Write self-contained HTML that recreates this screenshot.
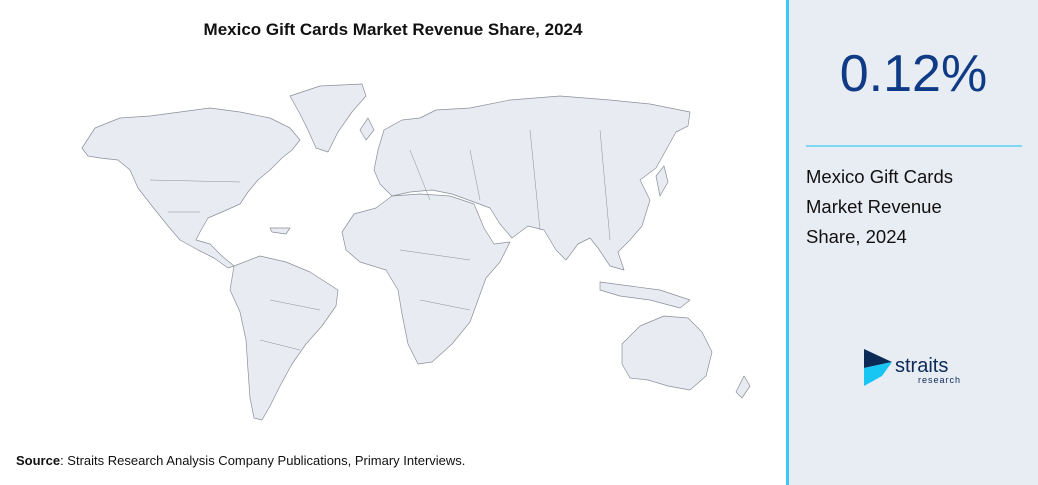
<!DOCTYPE html>
<html><head><meta charset="utf-8"><style>
body{margin:0;width:1038px;height:485px;overflow:hidden;background:#fff;font-family:"Liberation Sans",Arial,sans-serif;position:relative}
.title{position:absolute;left:0;width:786px;top:20px;text-align:center;font-size:17px;font-weight:bold;color:#111}
.panel{position:absolute;left:789px;top:0;width:249px;height:485px;background:#e8ecf3}
.vline{position:absolute;left:786px;top:0;width:3px;height:485px;background:#3cc8f4}
.big{position:absolute;left:789px;width:249px;top:44px;text-align:center;font-size:52px;color:#0f3b86;font-weight:500}
.hl{position:absolute;left:806px;top:145px;width:216px;height:1.5px;background:#7fd6f5}
.desc{position:absolute;left:806px;top:162px;font-size:18.5px;line-height:30px;color:#111}
.src{position:absolute;left:16px;top:453px;font-size:13px;color:#111}
</style></head><body>
<div class="title">Mexico Gift Cards Market Revenue Share, 2024</div>
<svg width="786" height="440" style="position:absolute;left:0;top:0">
<g fill="#e8ebf1" stroke="#8a8f98" stroke-width="0.7" stroke-linejoin="round">
<path d="M82,148 L95,128 L120,118 L150,116 L180,112 L210,108 L240,112 L270,118 L290,128 L300,140 L292,150 L282,158 L270,170 L258,180 L248,192 L240,204 L222,212 L208,218 L200,232 L196,240 L210,244 L222,256 L234,266 L228,268 L214,258 L198,250 L180,240 L168,226 L152,206 L138,188 L130,170 L118,160 L100,158 L88,156 Z"/>
<path d="M290,96 L320,86 L362,84 L366,96 L352,112 L338,132 L328,152 L316,148 L308,130 L300,114 Z"/>
<path d="M234,266 L260,256 L286,262 L310,272 L338,290 L336,306 L322,326 L306,344 L292,364 L280,386 L270,406 L262,420 L254,418 L250,398 L248,370 L246,340 L240,312 L230,290 Z"/>
<path d="M376,208 L392,196 L420,194 L450,196 L474,204 L484,228 L494,244 L510,242 L500,262 L486,278 L478,300 L470,322 L452,344 L432,362 L418,364 L408,344 L402,314 L398,290 L386,270 L360,262 L346,250 L342,232 L354,214 Z"/>
<path d="M378,150 L384,130 L402,120 L420,118 L436,110 L470,108 L510,100 L560,96 L610,100 L650,104 L690,112 L688,126 L676,132 L666,150 L656,168 L640,180 L650,200 L642,226 L630,240 L618,252 L624,270 L610,266 L598,248 L590,238 L578,244 L566,260 L556,250 L544,230 L528,226 L512,238 L500,224 L490,208 L474,202 L452,194 L432,190 L410,192 L392,196 L380,184 L374,170 Z"/>
<path d="M622,344 L640,326 L664,316 L688,318 L702,332 L712,352 L706,376 L690,390 L668,386 L648,380 L630,378 L622,364 Z"/>
<path d="M744,376 L750,386 L742,398 L736,392 Z"/>
<path d="M600,282 L630,286 L660,290 L690,300 L680,308 L650,300 L620,296 L600,290 Z"/>
<path d="M360,130 L368,118 L374,130 L366,140 Z"/>
<path d="M656,176 L664,166 L668,182 L660,196 Z"/>
<path d="M270,228 L290,228 L286,234 L272,232 Z"/>
</g>
<g stroke="#8a8f98" stroke-width="0.5" fill="none">
<path d="M150,180 L240,182 M200,212 L168,212 M410,150 L430,200 M470,150 L480,200 M530,130 L540,230 M600,130 L610,240 M400,250 L470,260 M420,300 L470,310 M270,300 L320,310 M260,340 L300,350"/>
</g>
</svg>
<div class="vline"></div>
<div class="panel"></div>
<div class="big">0.12%</div>
<div class="hl"></div>
<div class="desc">Mexico Gift Cards<br>Market Revenue<br>Share, 2024</div>
<svg width="110" height="40" style="position:absolute;left:862px;top:348px">
<polygon points="2,1 30,14 2,20" fill="#0b2a55"/>
<polygon points="2,20 30,14 20,28 2,38" fill="#17c6f3"/>
<text x="33" y="24" font-family="Liberation Sans,sans-serif" font-size="20" fill="#0b2a55">straits</text>
<text x="56" y="35" font-family="Liberation Sans,sans-serif" font-size="9" fill="#0b2a55" letter-spacing="1">research</text>
</svg>
<div class="src"><b>Source</b>: Straits Research Analysis Company Publications, Primary Interviews.</div>
</body></html>
